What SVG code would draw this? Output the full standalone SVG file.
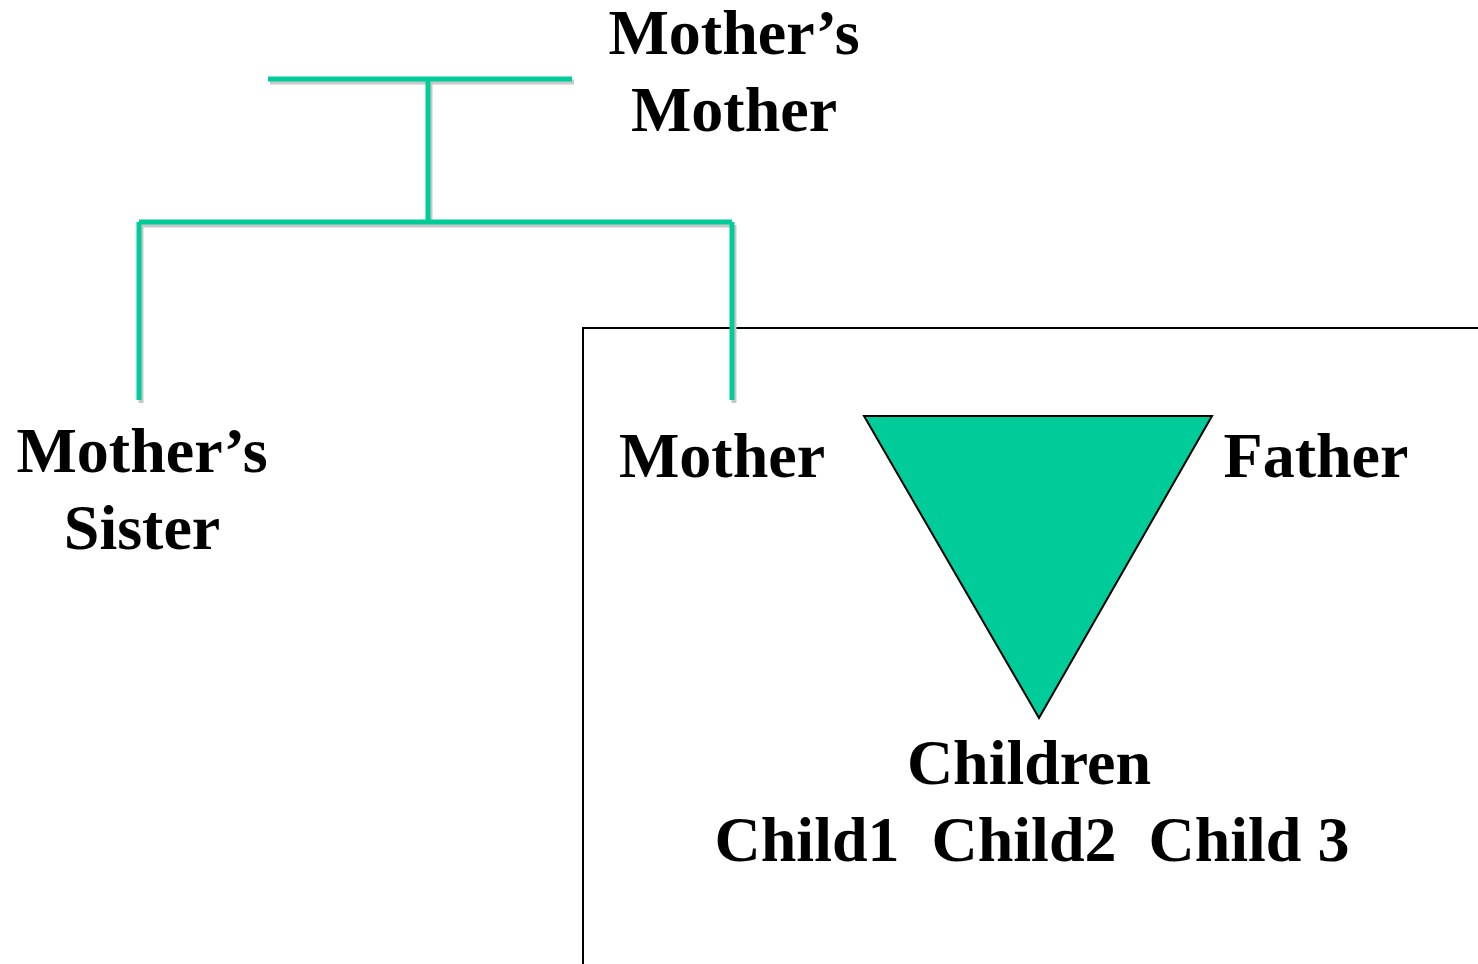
<svg xmlns="http://www.w3.org/2000/svg" width="1478" height="964" viewBox="0 0 1478 964">
<defs>
<style>
.t{font-family:"Liberation Serif","Times New Roman",serif;font-weight:bold;font-size:64px;fill:#000;text-anchor:middle}
.ln{stroke:#00cc99;stroke-width:5;fill:none}
.sh{stroke:#c8c8c8;stroke-width:5;fill:none}
</style>
</defs>
<rect width="1478" height="964" fill="#fff"/>
<g id="box">
<path d="M583,964 V328 H1478" fill="none" stroke="#000" stroke-width="2"/>
</g>
<g id="connectors">
<g transform="translate(2,3)" class="sh">
<line x1="268" y1="79" x2="572" y2="79"/>
<line x1="428" y1="79" x2="428" y2="222"/>
<line x1="139" y1="222" x2="732" y2="222"/>
<line x1="139" y1="222" x2="139" y2="400"/>
<line x1="732" y1="222" x2="732" y2="400"/>
</g>
<g class="ln">
<line x1="268" y1="79" x2="572" y2="79"/>
<line x1="428" y1="79" x2="428" y2="222"/>
<line x1="139" y1="222" x2="732" y2="222"/>
<line x1="139" y1="222" x2="139" y2="400"/>
<line x1="732" y1="222" x2="732" y2="400"/>
</g>
</g>
<g id="triangle">
<polygon points="864,416 1212,416 1039,718" fill="#00cc99" stroke="#000" stroke-width="2"/>
</g>
<g id="mothers-mother">
<text class="t" x="734" y="54">Mother’s</text>
<text class="t" x="734" y="131">Mother</text>
</g>
<g id="mothers-sister">
<text class="t" x="142" y="472">Mother’s</text>
<text class="t" x="142" y="549">Sister</text>
</g>
<g id="mother">
<text class="t" x="722" y="477">Mother</text>
</g>
<g id="father">
<text class="t" x="1316" y="477">Father</text>
</g>
<g id="children">
<text class="t" x="1029" y="784">Children</text>
<text class="t" x="1032" y="861" xml:space="preserve">Child1  Child2  Child 3</text>
</g>
</svg>
